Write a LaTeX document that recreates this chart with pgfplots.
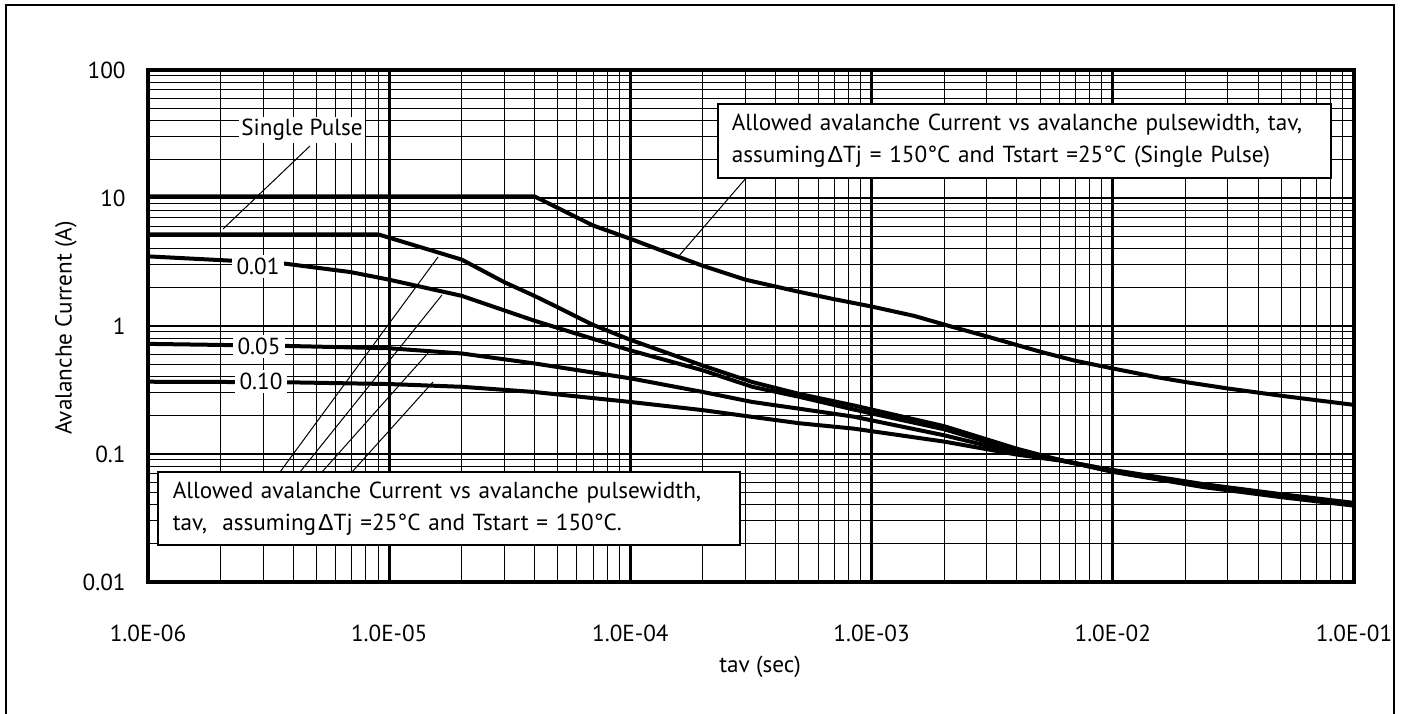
\documentclass[border=0pt]{standalone}
\usepackage{pgfplots}
\pgfplotsset{compat=1.18}
\usepackage{fontspec}
\setmainfont{PT Sans}
\newfontfamily\symf{Liberation Sans}
\newcommand{\D}{{\symf Δ}}
\begin{document}
\fontsize{11.6}{16}\selectfont
\begin{tikzpicture}[font=\fontsize{11.6}{16}\selectfont]
\path[use as bounding box] (0,0) rectangle (701pt,356.5pt);
\begin{axis}[
  at={(74pt,65.5pt)}, anchor=south west,
  scale only axis, width=603pt, height=256pt,
  xmode=log, ymode=log,
  xmin=1e-6, xmax=1e-1, ymin=0.01, ymax=100,
  xtick={1e-6,1e-5,1e-4,1e-3,1e-2,1e-1},
  xticklabels={1.0E-06,1.0E-05,1.0E-04,1.0E-03,1.0E-02,1.0E-01},
  ytick={0.01,0.1,1,10,100},
  yticklabels={0.01,0.1,1,10,100},
  minor xtick={2e-6,3e-6,4e-6,5e-6,6e-6,7e-6,8e-6,9e-6,
               2e-5,3e-5,4e-5,5e-5,6e-5,7e-5,8e-5,9e-5,
               2e-4,3e-4,4e-4,5e-4,6e-4,7e-4,8e-4,9e-4,
               2e-3,3e-3,4e-3,5e-3,6e-3,7e-3,8e-3,9e-3,
               2e-2,3e-2,4e-2,5e-2,6e-2,7e-2,8e-2,9e-2},
  minor ytick={0.02,0.03,0.04,0.05,0.06,0.07,0.08,0.09,
               0.2,0.3,0.4,0.5,0.6,0.7,0.8,0.9,
               2,3,4,5,6,7,8,9,
               20,30,40,50,60,70,80,90},
  grid=both,
  major grid style={black, line width=1.4pt},
  minor grid style={black, line width=0.5pt},
  axis line style={line width=2.2pt},
  tick style={draw=none},
  major tick length=0pt, minor tick length=0pt,
  xticklabel style={anchor=center, yshift=-25.5pt},
  yticklabel style={anchor=east, inner sep=0pt, xshift=-11pt},
]
% Delta Tj = 150, single pulse
\addplot[black, line width=2pt, line join=round] coordinates {
(1e-6,10.3) (4e-5,10.3) (7e-5,6.1) (1e-4,4.8) (1.5e-4,3.6) (2e-4,2.95)
(3e-4,2.3) (5e-4,1.85) (7e-4,1.62) (1e-3,1.42) (1.5e-3,1.2) (2.1e-3,1.0)
(3e-3,0.83) (5e-3,0.63) (7e-3,0.535) (1e-2,0.466) (1.5e-2,0.40)
(2e-2,0.365) (3e-2,0.325) (5e-2,0.285) (1e-1,0.242)};
% single pulse, Delta Tj = 25
\addplot[black, line width=2pt, line join=round] coordinates {
(1e-6,5.2) (9e-6,5.2) (2e-5,3.3) (3e-5,2.2) (4e-5,1.72) (5e-5,1.4)
(7e-5,1.02) (1e-4,0.78) (2e-4,0.49) (3.2e-4,0.365) (5e-4,0.295) (8.4e-4,0.24)
(2e-3,0.165) (4e-3,0.11) (6e-3,0.09) (1e-2,0.0725) (2.4e-2,0.055)
(5e-2,0.046) (1e-1,0.0395)};
% 0.01
\addplot[black, line width=2pt, line join=round] coordinates {
(1e-6,3.5) (3.6e-6,3.09) (6.9e-6,2.64) (1e-5,2.3) (2e-5,1.72) (4e-5,1.1)
(1e-4,0.645) (2e-4,0.45) (3.2e-4,0.335) (5e-4,0.28) (8.4e-4,0.223)
(2e-3,0.156) (4e-3,0.106) (6e-3,0.09) (1e-2,0.073) (2.4e-2,0.056)
(5e-2,0.047) (1e-1,0.040)};
% 0.05
\addplot[black, line width=2pt, line join=round] coordinates {
(1e-6,0.725) (3.6e-6,0.70) (1e-5,0.67) (2e-5,0.61) (4e-5,0.51) (1e-4,0.39)
(2e-4,0.305) (3.2e-4,0.255) (5e-4,0.226) (8.4e-4,0.196) (2e-3,0.14)
(4e-3,0.102) (6e-3,0.09) (1e-2,0.074) (2.4e-2,0.057) (5e-2,0.048) (1e-1,0.041)};
% 0.10
\addplot[black, line width=2pt, line join=round] coordinates {
(1e-6,0.367) (3.6e-6,0.364) (1e-5,0.352) (2e-5,0.335) (4e-5,0.305)
(1e-4,0.255) (2e-4,0.22) (3.2e-4,0.195) (5e-4,0.174) (8.4e-4,0.158)
(2e-3,0.125) (4e-3,0.099) (6e-3,0.089) (1e-2,0.075) (2.4e-2,0.058)
(5e-2,0.0485) (1e-1,0.0415)};
\end{axis}
% annotations in pixel coordinates of the reference
\begin{scope}[x=0.5pt, y=-0.5pt, shift={(0,356.5pt)}]
\draw[line width=1pt] (6,730) -- (6,5) -- (1394,5) -- (1394,730);
\node[rotate=90] at (66,328) {Avalanche Current (A)};
\node at (760,667) {tav (sec)};
% single pulse label
\draw[line width=0.5pt] (223,229) -- (310,146);
\node[fill=white, inner sep=1.2pt] at (302,130) {Single Pulse};
% duty labels
\node[fill=white, inner xsep=2.5pt, inner ysep=1.5pt] at (258,266.7) {0.01};
\node[fill=white, inner xsep=2.5pt, inner ysep=1.5pt] at (259,346.7) {0.05};
\node[fill=white, inner xsep=2.5pt, inner ysep=1.5pt] at (261,381.7) {0.10};
% top box
\draw[line width=0.5pt] (753,170) -- (678,257);
\node[draw, line width=0.85pt, fill=white, anchor=north west,
      text width=292.5pt, inner xsep=7pt, minimum height=37pt, align=left]
  at (717,103) {Allowed avalanche Current vs avalanche pulsewidth, tav,\\
  assuming\hspace{1pt}\D Tj = 150°C and Tstart =25°C (Single Pulse)};
% bottom box
\draw[line width=0.5pt] (280,472) -- (438,257);
\draw[line width=0.5pt] (300,472) -- (442,295);
\draw[line width=0.5pt] (322,472) -- (428,353);
\draw[line width=0.5pt] (352,472) -- (433,382);
\node[draw, line width=0.85pt, fill=white, anchor=north west,
      text width=276pt, inner xsep=7.5pt, minimum height=36.5pt, align=left]
  at (157,471) {Allowed avalanche Current vs avalanche pulsewidth,\\
  tav,\ \ assuming\hspace{1pt}\D Tj =25°C and Tstart = 150°C.};
\end{scope}
\end{tikzpicture}
\end{document}
